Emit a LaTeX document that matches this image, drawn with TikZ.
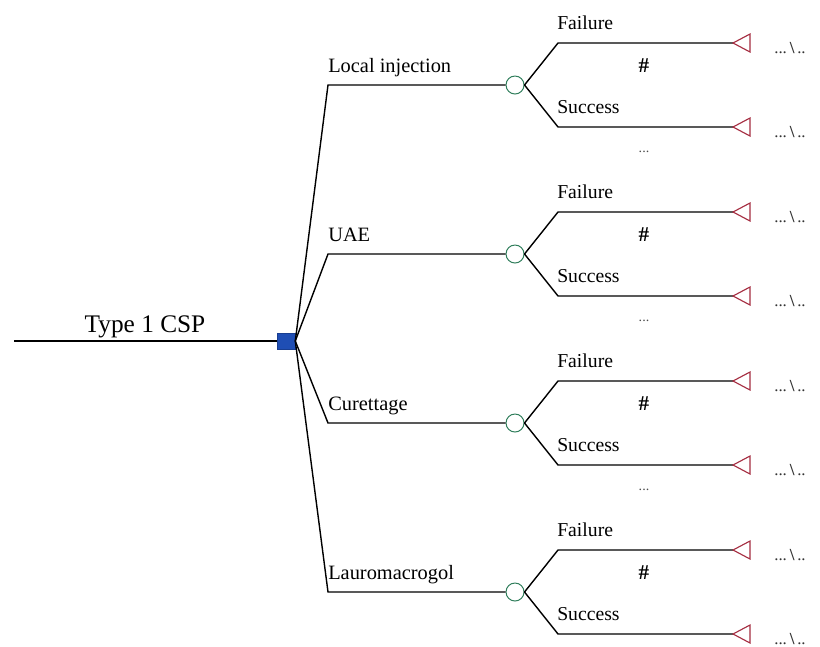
\documentclass[tikz,border=0pt]{standalone}
\usepackage{fontspec}
\setmainfont{Liberation Serif}
\usetikzlibrary{calc}

\definecolor{decblue}{RGB}{31,78,180}
\definecolor{chgreen}{RGB}{46,125,90}
\definecolor{termred}{RGB}{165,45,65}

\begin{document}
\begin{tikzpicture}[
    x=0.025cm, y=-0.025cm,
    branch/.style     = {black, line width=1pt},
    decision/.style   = {draw=decblue!80!black, fill=decblue, minimum width=0.45cm,
                         minimum height=0.4cm, inner sep=0pt},
    chance/.style     = {circle, draw=chgreen, fill=white, line width=0.7pt,
                         minimum size=0.45cm, inner sep=0pt},
    terminal/.style   = {draw=termred, line width=0.8pt, line join=miter},
    rootlabel/.style  = {anchor=base, inner sep=0pt, font=\fontsize{18}{21}\selectfont},
    optlabel/.style   = {anchor=base west, inner sep=0pt, font=\fontsize{14.5}{17}\selectfont},
    outlabel/.style   = {anchor=base west, inner sep=0pt, font=\fontsize{14}{17}\selectfont},
    marklabel/.style  = {inner sep=0pt, font=\fontsize{15}{17}\selectfont\bfseries},
    payoff/.style     = {anchor=base west, inner sep=0pt, font=\fontsize{12}{14}\selectfont, black!80}
  ]

\useasboundingbox (0,0) rectangle (820,646);

% =========================================================
% Root branch and decision node
% =========================================================
\coordinate (start) at (14,341);
\node[decision] (dec) at (286,341) {};
\draw[branch] (start) -- (dec.west);
\node[rootlabel] (rootlbl) at (145,332) {Type 1 CSP};

% =========================================================
% Treatment options, each with a chance node
% =========================================================
\foreach \i/\yy/\txt in {1/85/Local injection, 2/254/UAE, 3/423/Curettage, 4/592/Lauromacrogol} {
  \node[chance] (c\i) at (515,\yy) {};
  \coordinate (k\i) at (328,\yy);
  \draw[branch] (dec.east) -- (k\i) -- (c\i.west);
  \node[optlabel] (opt\i) at (328,\yy-13) {\txt};

  % outcomes: failure (upper) and success (lower)
  \coordinate (f\i)  at (558,\yy-42);
  \coordinate (ft\i) at (733,\yy-42);
  \coordinate (s\i)  at (558,\yy+42);
  \coordinate (st\i) at (733,\yy+42);
  \draw[branch] (c\i.east) -- (f\i) -- (ft\i);
  \draw[branch] (c\i.east) -- (s\i) -- (st\i);

  % terminal nodes
  \draw[terminal] (ft\i) -- ++(17,-9) -- ++(0,18) -- cycle;
  \draw[terminal] (st\i) -- ++(17,-9) -- ++(0,18) -- cycle;

  \node[outlabel] (fl\i) at (557,\yy-42-14) {Failure};
  \node[outlabel] (sl\i) at (557,\yy+42-14) {Success};
  \node[marklabel] (hash\i) at (644,\yy-19) {\#};
  \node[payoff] (fp\i) at (774,\yy-42+10) {...\,{\bfseries\textbackslash}\,..};
  \node[payoff] (sp\i) at (774,\yy+42+10) {...\,{\bfseries\textbackslash}\,..};
  \ifnum\i<4
    \node[marklabel, black!70, font=\fontsize{10}{12}\selectfont] (more\i) at (644,\yy+67) {...};
  \fi
}

\end{tikzpicture}
\end{document}
